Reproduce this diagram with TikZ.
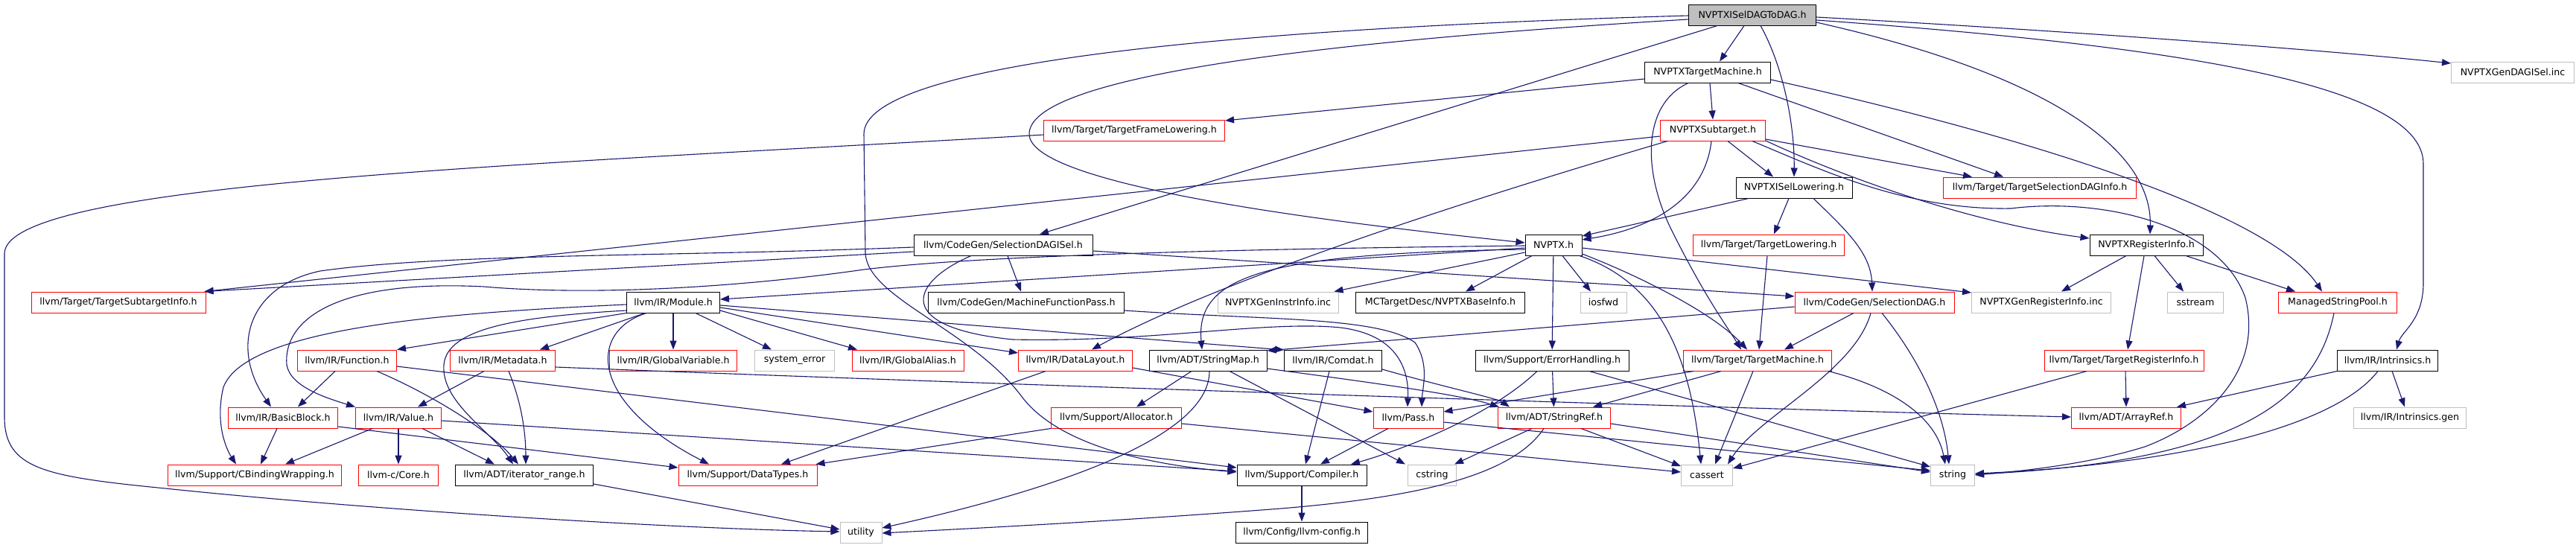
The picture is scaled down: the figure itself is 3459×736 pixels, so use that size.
\documentclass[tikz,border=0pt]{standalone}
\usepackage{fontspec}
\setmainfont{DejaVu Sans}
\usetikzlibrary{arrows.meta}
\definecolor{edgec}{HTML}{191970}
\definecolor{grayb}{HTML}{BFBFBF}
\definecolor{rootf}{HTML}{BFBFBF}
\tikzset{
  nd/.style={rectangle, minimum height=28pt, inner sep=0pt, line width=1pt, font=\fontsize{12.6}{15}\selectfont},
  rd/.style={nd, draw=red},
  bk/.style={nd, draw=black},
  gy/.style={nd, draw=grayb},
  rt/.style={nd, draw=black, fill=rootf},
  e/.style={draw=edgec, line width=1.1pt, -{Triangle[length=12pt,width=9pt]}}
}
\begin{document}
\begin{tikzpicture}[x=1pt,y=-1pt]
\fill[white] (0,0) rectangle (3459,736);
\useasboundingbox (0,0) rectangle (3459,736);
% row A
\node[rt, minimum width=171pt] (root) at (2353,20) {NVPTXISelDAGToDAG.h};
% row B
\node[bk, minimum width=169pt] (ntm) at (2293,97) {NVPTXTargetMachine.h};
\node[gy, minimum width=165pt] (gendag) at (3374,97) {NVPTXGenDAGISel.inc};
% row C
\node[rd, minimum width=243pt] (tfl) at (1523,175) {llvm/Target/TargetFrameLowering.h};
\node[rd, minimum width=141pt] (sub) at (2300,175) {NVPTXSubtarget.h};
% row D
\node[bk, minimum width=156pt] (isl) at (2409,252) {NVPTXISelLowering.h};
\node[rd, minimum width=259pt] (tsdi) at (2739,252) {llvm/Target/TargetSelectionDAGInfo.h};
% row E
\node[bk, minimum width=240pt] (sdisel) at (1347,329) {llvm/CodeGen/SelectionDAGISel.h};
\node[bk, minimum width=76pt] (nvptx) at (2086,329) {NVPTX.h};
\node[rd, minimum width=203pt] (tlow) at (2375,329) {llvm/Target/TargetLowering.h};
\node[bk, minimum width=152pt] (nri) at (2882,329) {NVPTXRegisterInfo.h};
% row F
\node[rd, minimum width=234pt] (tsi) at (159,406) {llvm/Target/TargetSubtargetInfo.h};
\node[bk, minimum width=125pt] (mod) at (904,406) {llvm/IR/Module.h};
\node[bk, minimum width=263pt] (mfp) at (1378,406) {llvm/CodeGen/MachineFunctionPass.h};
\node[gy, minimum width=162pt] (geninstr) at (1716,406) {NVPTXGenInstrInfo.inc};
\node[bk, minimum width=227pt] (baseinfo) at (1934,406) {MCTargetDesc/NVPTXBaseInfo.h};
\node[gy, minimum width=62pt] (iosfwd) at (2153,406) {iosfwd};
\node[rd, minimum width=214pt] (sdag) at (2517,406) {llvm/CodeGen/SelectionDAG.h};
\node[gy, minimum width=187pt] (genreg) at (2741,406) {NVPTXGenRegisterInfo.inc};
\node[gy, minimum width=75pt] (sstream) at (2948,406) {sstream};
\node[rd, minimum width=159pt] (msp) at (3139,406) {ManagedStringPool.h};
% row G
\node[rd, minimum width=133pt] (func) at (466,484) {llvm/IR/Function.h};
\node[rd, minimum width=141pt] (meta) at (675,484) {llvm/IR/Metadata.h};
\node[rd, minimum width=171pt] (gvar) at (904,484) {llvm/IR/GlobalVariable.h};
\node[gy, minimum width=107pt] (syserr) at (1067,484) {system\_error};
\node[rd, minimum width=150pt] (galias) at (1219,484) {llvm/IR/GlobalAlias.h};
\node[rd, minimum width=153pt] (dl) at (1444,484) {llvm/IR/DataLayout.h};
\node[bk, minimum width=158pt] (smap) at (1622,484) {llvm/ADT/StringMap.h};
\node[bk, minimum width=131pt] (comdat) at (1790,484) {llvm/IR/Comdat.h};
\node[bk, minimum width=206pt] (eh) at (2084,484) {llvm/Support/ErrorHandling.h};
\node[rd, minimum width=199pt] (ltm) at (2360,484) {llvm/Target/TargetMachine.h};
\node[rd, minimum width=214pt] (tri) at (2852,484) {llvm/Target/TargetRegisterInfo.h};
\node[bk, minimum width=135pt] (intr) at (3206,484) {llvm/IR/Intrinsics.h};
% row H
\node[rd, minimum width=147pt] (bb) at (380,561) {llvm/IR/BasicBlock.h};
\node[rd, minimum width=115pt] (val) at (535,561) {llvm/IR/Value.h};
\node[rd, minimum width=175pt] (alloc) at (1499,561) {llvm/Support/Allocator.h};
\node[rd, minimum width=94pt] (pass) at (1891,561) {llvm/Pass.h};
\node[rd, minimum width=151pt] (sref) at (2087,561) {llvm/ADT/StringRef.h};
\node[rd, minimum width=147pt] (aref) at (2855,561) {llvm/ADT/ArrayRef.h};
\node[gy, minimum width=151pt] (igen) at (3236,561) {llvm/IR/Intrinsics.gen};
% row I
\node[rd, minimum width=233pt] (cbw) at (342,638) {llvm/Support/CBindingWrapping.h};
\node[rd, minimum width=107pt] (core) at (535,638) {llvm-c/Core.h};
\node[bk, minimum width=185pt] (irange) at (704,638) {llvm/ADT/iterator\_range.h};
\node[rd, minimum width=186pt] (dtypes) at (1004,638) {llvm/Support/DataTypes.h};
\node[bk, minimum width=174pt] (comp) at (1748,638) {llvm/Support/Compiler.h};
\node[gy, minimum width=65pt] (cstring) at (1923,638) {cstring};
\node[gy, minimum width=69pt] (cassert) at (2292,638) {cassert};
\node[gy, minimum width=59pt] (string) at (2622,638) {string};
% row J
\node[gy, minimum width=56pt] (util) at (1156,715) {utility};
\node[bk, minimum width=177pt] (cfg) at (1748,715) {llvm/Config/llvm-config.h};

% ---- edges from root
\path[e] ([xshift=-11pt]root.south) -- ([xshift=16pt]ntm.north);
\path[e] ([xshift=11pt]root.south) .. controls (2395,90) and (2410,170) .. (isl.north);
\path[e] ([yshift=-3pt]root.east) .. controls (2750,40) and (3100,65) .. ([yshift=12pt]gendag.west);
\path[e] ([yshift=-7pt]root.east) .. controls (2900,60) and (3254,110) .. (3254,220) -- (3254,380) .. controls (3254,430) and (3225,445) .. ([xshift=12pt]intr.north);
\path[e] ([yshift=-10pt]root.east) .. controls (2750,100) and (2890,200) .. ([xshift=5pt]nri.north);
\path[e] ([xshift=-47pt]root.south) -- ([xshift=49pt]sdisel.north);
\path[e] ([yshift=-6pt]root.west) .. controls (1700,60) and (1382,110) .. (1382,180) .. controls (1382,250) and (1800,300) .. ([yshift=3pt]nvptx.west);
\path[e] ([yshift=-1pt]root.west) .. controls (1600,40) and (1160,90) .. (1160,180) -- (1162,340) .. controls (1165,400) and (1300,440) .. (1370,530) .. controls (1420,600) and (1550,625) .. ([yshift=4pt]comp.west);
% ---- NVPTXTargetMachine
\path[e] ([yshift=-9pt]ntm.west) -- ([yshift=13pt]tfl.east);
\path[e] ([xshift=3pt]ntm.south) -- (sub.north);
\path[e] ([xshift=-26pt]ntm.south) .. controls (2205,140) and (2205,230) .. (2245,310) .. controls (2290,400) and (2320,440) .. ([xshift=-22pt]ltm.north);
\path[e] ([xshift=41pt]ntm.south) -- ([xshift=-49pt]tsdi.north);
\path[e] ([yshift=-10pt]ntm.east) .. controls (2750,190) and (3050,290) .. ([xshift=-21pt]msp.north);
% ---- NVPTXSubtarget
\path[e] ([xshift=20pt]sub.south) -- ([xshift=-28pt]isl.north);
\path[e] ([xshift=-2pt]sub.south) .. controls (2290,260) and (2230,305) .. ([yshift=7pt]nvptx.east);
\path[e] ([yshift=-8pt]sub.west) -- ([xshift=-2pt]tsi.north east);
\path[e] ([xshift=-61pt]sub.south) .. controls (2000,260) and (1650,370) .. ([xshift=22pt]dl.north);
\path[e] ([yshift=-12pt]sub.east) -- ([xshift=-91pt]tsdi.north);
\path[e] ([yshift=-14pt]sub.east) .. controls (2480,240) and (2650,300) .. ([yshift=9pt]nri.west);
\path[e] ([xshift=53pt]sub.south) .. controls (2450,230) and (2560,282) .. (2700,280) .. controls (2820,265) and (2980,300) .. (3015,400) .. controls (3040,500) and (2960,570) .. (2880,600) .. controls (2800,625) and (2700,634) .. (string.east);
% ---- NVPTXISelLowering
\path[e] ([xshift=-61pt]isl.south) -- ([yshift=12pt]nvptx.east);
\path[e] ([xshift=-7pt]isl.south) -- ([xshift=7pt]tlow.north);
\path[e] ([xshift=26pt]isl.south) .. controls (2480,310) and (2512,340) .. ([xshift=-3pt]sdag.north);
% ---- TargetFrameLowering
\path[e] ([yshift=-6pt]tfl.west) .. controls (700,222) and (10,245) .. (6,340) -- (6,560) .. controls (6,630) and (60,640) .. (222,656) .. controls (500,685) and (900,710) .. ([yshift=1pt]util.west);
% ---- SelectionDAGISel
\path[e] ([xshift=6pt]sdisel.south) -- ([xshift=-7pt]mfp.north);
\path[e] ([yshift=-8pt]sdisel.east) -- ([yshift=8pt]sdag.west);
\path[e] ([xshift=-43pt]sdisel.south) .. controls (1220,380) and (1200,440) .. (1360,456) .. controls (1550,460) and (1700,430) .. (1800,440) .. controls (1880,450) and (1892,500) .. ([xshift=-1pt]pass.north);
\path[e] ([yshift=-9pt]sdisel.west) -- ([xshift=-2pt]tsi.north east);
\path[e] ([yshift=-3pt]sdisel.west) .. controls (900,345) and (600,340) .. (430,364) .. controls (330,385) and (310,470) .. ([xshift=-16pt]bb.north);
% ---- NVPTX.h
\path[e] ([yshift=-4pt]nvptx.west) -- ([yshift=4pt]mod.east);
\path[e] ([yshift=-1pt]nvptx.west) .. controls (1600,335) and (1300,345) .. (1160,362) .. controls (1000,385) and (800,398) .. (650,385) .. controls (450,375) and (380,430) .. (385,490) .. controls (390,520) and (440,535) .. (val.north west);
\path[e] ([yshift=-6pt]nvptx.west) .. controls (1700,340) and (1605,370) .. ([xshift=-8pt]smap.north);
\path[e] ([yshift=-10pt]nvptx.west) -- ([xshift=-6pt]geninstr.north east);
\path[e] ([xshift=-29pt]nvptx.south) -- ([xshift=34pt]baseinfo.north);
\path[e] (nvptx) -- (eh);
\path[e] ([xshift=12pt]nvptx.south) -- ([xshift=-17pt]iosfwd.north);
\path[e] ([xshift=35pt]nvptx.south) .. controls (2230,380) and (2270,480) .. ([xshift=-8pt]cassert.north);
\path[e] ([yshift=-12pt]nvptx.east) .. controls (2200,370) and (2300,420) .. ([xshift=-14pt]ltm.north);
\path[e] ([yshift=-4pt]nvptx.east) -- ([yshift=13pt]genreg.west);
% ---- TargetLowering / RegisterInfo
\path[e] ([xshift=-2pt]tlow.south) -- ([xshift=2pt]ltm.north);
\path[e] ([xshift=-27pt]nri.south) -- ([xshift=27pt]genreg.north);
\path[e] ([xshift=-3pt]nri.south) -- ([xshift=5pt]tri.north);
\path[e] ([xshift=11pt]nri.south) -- ([xshift=-16pt]sstream.north);
\path[e] ([xshift=53pt]nri.south) -- ([xshift=-57pt]msp.north);
% ---- Module
\path[e] (mod.south west) -- (func.north east);
\path[e] ([yshift=-3pt]mod.west) .. controls (600,420) and (330,440) .. (300,520) .. controls (288,570) and (305,605) .. ([xshift=-25pt]cbw.north);
\path[e] ([xshift=-38pt]mod.south) -- ([xshift=50pt]meta.north);
\path[e] ([yshift=-11pt]mod.west) .. controls (700,425) and (600,440) .. (596,490) .. controls (592,540) and (660,580) .. ([xshift=-15pt]irange.north);
\path[e] ([xshift=-36pt]mod.south) .. controls (790,445) and (790,540) .. ([xshift=-52pt]dtypes.north);
\path[e] (mod) -- (gvar);
\path[e] ([xshift=30pt]mod.south) -- ([xshift=-31pt]syserr.north);
\path[e] ([yshift=-11pt]mod.east) -- ([xshift=-68pt]galias.north);
\path[e] ([yshift=-7pt]mod.east) -- ([yshift=10pt]dl.west);
\path[e] ([yshift=-4pt]mod.east) -- ([yshift=14pt]comdat.west);
% ---- Function / Metadata / BasicBlock / Value
\path[e] ([xshift=-16pt]func.south) -- ([xshift=20pt]bb.north);
\path[e] ([xshift=40pt]func.south) .. controls (580,530) and (660,580) .. ([xshift=-8pt]irange.north);
\path[e] ([yshift=-8pt]func.east) -- ([yshift=10pt]comp.west);
\path[e] ([xshift=-25pt]meta.south) -- ([xshift=26pt]val.north);
\path[e] ([xshift=8pt]meta.south) .. controls (700,540) and (706,580) .. ([xshift=2pt]irange.north);
\path[e] ([yshift=-9pt]meta.east) .. controls (1300,515) and (2300,548) .. ([yshift=1pt]aref.west);
\path[e] ([xshift=-8pt]bb.south) -- ([xshift=8pt]cbw.north);
\path[e] ([yshift=-12pt]bb.east) -- ([yshift=10pt]dtypes.west);
\path[e] ([xshift=-35pt]val.south) -- ([xshift=41pt]cbw.north);
\path[e] (val) -- (core);
\path[e] ([xshift=32pt]val.south) -- ([xshift=-40pt]irange.north);
\path[e] ([yshift=-4pt]val.east) -- ([yshift=5pt]comp.west);
% ---- DataLayout / StringMap / Comdat / Allocator
\path[e] ([xshift=-40pt]dl.south) -- ([xshift=45pt]dtypes.north);
\path[e] ([yshift=-10pt]dl.east) -- ([yshift=8pt]pass.west);
\path[e] ([xshift=-22pt]smap.south) -- ([xshift=27pt]alloc.north);
\path[e] ([xshift=2pt]smap.south) .. controls (1624,580) and (1450,650) .. ([yshift=6pt]util.east);
\path[e] ([xshift=29pt]smap.south) -- ([xshift=-36pt]cstring.north);
\path[e] ([yshift=-11pt]smap.east) .. controls (1850,515) and (1960,530) .. ([xshift=-74pt]sref.north);
\path[e] ([yshift=-12pt]comdat.east) .. controls (1940,520) and (2010,535) .. ([xshift=-60pt]sref.north);
\path[e] ([xshift=-5pt]comdat.south) -- ([xshift=5pt]comp.north);
\path[e] (alloc.south west) -- ([xshift=-2pt]dtypes.north east);
\path[e] ([yshift=-8pt]alloc.east) -- ([yshift=4pt]cassert.west);
% ---- Pass / StringRef / ErrorHandling
\path[e] ([xshift=-27pt]pass.south) -- ([xshift=25pt]comp.north);
\path[e] ([yshift=-6pt]pass.east) -- ([yshift=6pt]string.west);
\path[e] ([xshift=-30pt]sref.south) -- ([xshift=30pt]cstring.north);
\path[e] ([xshift=-14pt]sref.south) .. controls (2030,640) and (1900,668) .. (1720,683) .. controls (1500,700) and (1300,710) .. ([yshift=-1pt]util.east);
\path[e] ([xshift=36pt]sref.south) -- ([yshift=12pt]cassert.west);
\path[e] ([yshift=-8pt]sref.east) -- ([yshift=4pt]string.west);
\path[e] ([xshift=-20pt]eh.south) .. controls (2000,560) and (1880,605) .. ([xshift=66pt]comp.north);
\path[e] (eh) -- (sref);
\path[e] ([xshift=50pt]eh.south) -- ([yshift=11pt]string.west);
% ---- llvm TargetMachine
\path[e] ([xshift=-86pt]ltm.south) -- ([yshift=8pt]pass.east);
\path[e] ([xshift=-49pt]ltm.south) -- ([xshift=52pt]sref.north);
\path[e] ([xshift=-6pt]ltm.south) -- ([xshift=11pt]cassert.north);
\path[e] ([xshift=95pt]ltm.south) .. controls (2540,520) and (2600,560) .. ([xshift=-10pt]string.north);
% ---- SelectionDAG
\path[e] ([xshift=-28pt]sdag.south) -- ([xshift=36pt]ltm.north);
\path[e] ([xshift=-5pt]sdag.south) .. controls (2490,500) and (2360,560) .. ([xshift=28pt]cassert.north);
\path[e] ([xshift=10pt]sdag.south) .. controls (2575,480) and (2610,550) .. ([xshift=-5pt]string.north);
\path[e] ([yshift=-6pt]sdag.west) -- ([yshift=13pt]smap.east);
% ---- TargetRegisterInfo / Intrinsics / ManagedStringPool
\path[e] ([xshift=2pt]tri.south) -- (aref.north);
\path[e] ([xshift=-50pt]tri.south) -- ([yshift=9pt]cassert.east);
\path[e] (intr.south west) -- ([xshift=-6pt]aref.north east);
\path[e] ([xshift=6pt]intr.south) -- ([xshift=-7pt]igen.north);
\path[e] ([xshift=-13pt]intr.south) .. controls (3130,580) and (2900,625) .. ([yshift=2pt]string.east);
\path[e] ([xshift=-5pt]msp.south) .. controls (3110,540) and (3000,620) .. ([yshift=1pt]string.east);
% ---- others
\path[e] ([yshift=-12pt]irange.east) -- ([yshift=4pt]util.west);
\path[e] (comp) -- (cfg);
\path[e] ([yshift=-11pt]mfp.east) .. controls (1700,430) and (1850,425) .. (1900,460) .. controls (1920,490) and (1910,520) .. ([xshift=18pt]pass.north);
\end{tikzpicture}
\end{document}
